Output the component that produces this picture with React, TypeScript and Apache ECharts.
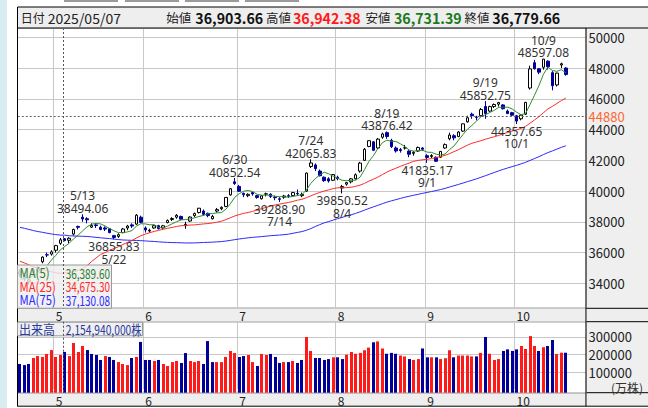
import React, { useEffect, useRef } from "react";
import * as echarts from "echarts";

const dates = [
  "2025/04/18","2025/04/21","2025/04/22","2025/04/23","2025/04/24","2025/04/25","2025/04/28","2025/04/30",
  "2025/05/01","2025/05/02","2025/05/07","2025/05/08","2025/05/09","2025/05/12","2025/05/13","2025/05/14","2025/05/15","2025/05/16","2025/05/19","2025/05/20","2025/05/21","2025/05/22","2025/05/23","2025/05/26","2025/05/27","2025/05/28","2025/05/29","2025/05/30",
  "2025/06/02","2025/06/03","2025/06/04","2025/06/05","2025/06/06","2025/06/09","2025/06/10","2025/06/11","2025/06/12","2025/06/13","2025/06/16","2025/06/17","2025/06/18","2025/06/19","2025/06/20","2025/06/23","2025/06/24","2025/06/25","2025/06/26","2025/06/27","2025/06/30",
  "2025/07/01","2025/07/02","2025/07/03","2025/07/04","2025/07/07","2025/07/08","2025/07/09","2025/07/10","2025/07/11","2025/07/14","2025/07/15","2025/07/16","2025/07/17","2025/07/18","2025/07/22","2025/07/23","2025/07/24","2025/07/25","2025/07/28","2025/07/29","2025/07/30","2025/07/31",
  "2025/08/01","2025/08/04","2025/08/05","2025/08/06","2025/08/07","2025/08/08","2025/08/12","2025/08/13","2025/08/14","2025/08/15","2025/08/18","2025/08/19","2025/08/20","2025/08/21","2025/08/22","2025/08/25","2025/08/26","2025/08/27","2025/08/28","2025/08/29",
  "2025/09/01","2025/09/02","2025/09/03","2025/09/04","2025/09/05","2025/09/08","2025/09/09","2025/09/10","2025/09/11","2025/09/12","2025/09/16","2025/09/17","2025/09/18","2025/09/19","2025/09/22","2025/09/24","2025/09/25","2025/09/26","2025/09/29","2025/09/30",
  "2025/10/01","2025/10/02","2025/10/03","2025/10/06","2025/10/07","2025/10/08","2025/10/09","2025/10/10","2025/10/14","2025/10/15","2025/10/16","2025/10/17"
];
const futureDates = ["2025/10/20","2025/10/21","2025/10/22","2025/10/23"];

const opens = [
  34600,34500,34100,34700,34800,35400,35850,35900,36150,36600,
  36903.66,36800,37200,37700,38300,38200,37650,37800,37650,37600,
  37550,37100,37050,37300,37600,37800,37850,38300,37600,37400,
  37600,37750,37600,37950,38150,38300,38350,37750,38050,38400,
  38600,38700,38550,38200,38700,38850,39000,39750,40600,40300,
  39850,39700,39900,39700,39500,39800,39800,39600,39500,39600,
  39700,39700,39850,39700,40000,41600,41700,41300,40900,40800,
  40700,40900,40200,40450,40600,40800,41300,42000,42900,43200,
  42800,43500,43800,43300,42800,42700,42800,42600,42450,42600,
  42800,42300,42250,42200,42200,42800,43400,43600,43550,43900,
  44500,45000,44800,44900,45500,45200,45500,45650,45600,45200,
  45100,44900,44700,45000,46700,48350,47950,48050,48450,47700,
  46900,48200,48000
];
const highs = [
  34900,34700,34300,35000,35100,35750,36000,36150,36500,36950,
  36942.38,37000,37550,37750,38494.06,38300,37900,37900,37750,37700,
  37600,37150,37250,37600,37800,37900,38500,38400,37700,37550,
  37800,37800,37800,38150,38300,38500,38400,38000,38350,38600,
  38900,38800,38600,38450,38900,39000,39600,40200,40852.54,40400,
  39900,39850,39950,39750,39750,39900,39850,39700,39600,39750,
  39800,39950,40100,39900,41200,42065.83,41800,41400,40950,40900,
  41100,41000,40400,40600,40850,41150,41900,42800,43300,43250,
  43450,43800,43876.42,43400,42900,42800,43000,42650,42600,42900,
  42850,42400,42400,42250,42600,43100,43800,43700,43900,44400,
  44900,45100,44900,45400,45852.75,45550,45700,45800,45650,45300,
  45150,44950,45000,45800,48150,48527,48000,48597.08,48500,47800,
  47700,48350,48050
];
const lows = [
  34420,34150,33900,34600,34700,35300,35700,35800,36000,36500,
  36731.39,36600,37100,37500,38000,37900,37600,37600,37450,37400,
  37250,36855.83,36950,37250,37450,37600,37800,37900,37300,37300,
  37550,37500,37550,37900,38050,38200,38100,37550,38000,38300,
  38550,38400,38300,38150,38600,38750,38950,39700,40400,39950,
  39600,39600,39700,39500,39450,39650,39550,39400,39288.90,39500,
  39550,39650,39700,39600,39950,41500,41300,40950,40600,40550,
  40650,40700,39850.52,40350,40500,40750,41200,41950,42850,42600,
  42750,43400,43400,42800,42500,42500,42700,42200,42300,42550,
  42600,41835.17,42150,41900,42150,42750,43300,43300,43500,43850,
  44450,44700,44600,44850,44700,45150,45400,45500,45300,45000,
  44850,44357.65,44600,44950,46600,47900,47600,47900,47900,46550,
  46800,48000,47500
];
const closes = [
  34730,34280,34221,34869,35039,35706,35840,36045,36452,36831,
  36779.66,36929,37503,37644,38183,38128,37756,37754,37499,37529,
  37299,36986,37160,37532,37724,37722,38433,37965,37471,37447,
  37747,37554,37742,38089,38212,38421,38173,37834,38311,38537,
  38885,38488,38403,38354,38791,38942,39585,40151,40487,39986,
  39762,39786,39811,39588,39689,39821,39646,39570,39460,39678,
  39663,39901,39819,39775,41171,41826,41456,40998,40675,40655,
  41070,40800,40291,40550,40795,41059,41820,42718,43275,42649,
  43378,43714,43546,42889,42610,42633,42808,42394,42520,42829,
  42718,42189,42310,41939,42580,43019,43644,43459,43838,44373,
  44768,44902,44790,45303,45046,45494,45630,45755,45355,45044,
  44933,44551,44937,45770,47945,47951,47735,48580,48089,46847,
  47673,48278,47582
];
// 出来高 (万株)
const volumes = [
  147000,141000,147000,181000,192000,187000,204000,226000,187000,198000,
  215494,192000,266000,215000,249000,226000,204000,198000,170000,192000,
  187000,170000,158000,147000,141000,181000,187000,272000,170000,170000,
  164000,170000,147000,136000,158000,164000,153000,209000,164000,158000,
  164000,147000,277000,158000,158000,158000,187000,221000,209000,187000,
  192000,198000,158000,136000,204000,198000,204000,187000,153000,158000,
  158000,164000,153000,170000,300000,221000,181000,181000,170000,175000,
  185000,185000,175000,200000,215000,205000,210000,225000,240000,270000,
  275000,235000,205000,210000,205000,195000,190000,175000,170000,175000,
  235000,185000,185000,185000,175000,180000,225000,185000,195000,195000,
  195000,190000,190000,210000,300000,205000,170000,175000,221000,230000,
  221000,230000,249000,232000,305000,249000,221000,242000,249000,283000,
  204000,211000,211000
];
// 1 = red (up vs previous close), 0 = navy
const volUp = [
  0,0,0,1,1,1,1,1,1,1,
  0,1,1,1,1,0,0,0,0,1,
  0,0,1,1,1,0,1,0,0,0,
  1,0,1,1,1,1,0,0,1,1,
  1,0,0,0,1,1,1,1,1,0,
  0,1,1,0,1,1,0,0,0,1,
  0,1,0,0,1,1,0,0,0,0,
  1,0,0,1,1,1,1,1,1,0,
  1,1,0,0,0,1,1,0,1,1,
  0,0,1,0,1,1,1,0,1,1,
  1,1,0,1,0,1,1,1,0,0,
  0,0,1,1,1,1,0,1,0,0,
  1,1,0
];
const ma5 = [
  34255,34315,34306,34495,34628,34823,35135,35500,35816,36175,
  36389.60,36607,36899,37137,37408,37677,37843,37893,37864,37733,
  37567,37413,37295,37301,37340,37425,37714,37875,37863,37808,
  37813,37637,37592,37716,37869,38004,38127,38146,38190,38255,
  38348,38411,38525,38533,38584,38596,38815,39165,39591,39830,
  39994,40034,39966,39787,39727,39739,39711,39663,39637,39635,
  39603,39654,39704,39767,40066,40498,40809,41045,41225,41122,
  40971,40840,40698,40673,40701,40699,40903,41388,41933,42304,
  42768,43147,43312,43235,43227,43078,42897,42667,42593,42637,
  42654,42530,42513,42397,42347,42407,42698,42928,43308,43667,
  44016,44268,44534,44827,44962,45107,45253,45446,45456,45456,
  45343,45128,44964,45047,45627,46231,46868,47596,48060,47840,
  47785,47893,47694
];
const ma25 = [
  35435,35324,35197,35078,34969,34891,34820,34750,34687,34649,
  34675.30,34688,34763,34840,34977,35151,35416,35646,35877,35994,
  36143,36263,36378,36523,36657,36776,36943,37092,37196,37293,
  37374,37443,37511,37576,37632,37697,37747,37760,37787,37801,
  37831,37861,37887,37921,37971,38037,38141,38261,38379,38469,
  38551,38605,38679,38763,38853,38936,39020,39093,39148,39206,
  39256,39325,39405,39463,39568,39686,39805,39909,40001,40076,
  40161,40210,40215,40218,40250,40302,40383,40500,40647,40766,
  40908,41071,41230,41367,41484,41603,41719,41822,41932,41998,
  42034,42063,42116,42166,42243,42321,42435,42562,42693,42836,
  42985,43108,43191,43272,43368,43453,43529,43618,43716,43814,
  43906,43975,44077,44207,44412,44621,44843,45094,45340,45510,
  45696,45882,46047
];
const ma75 = [
  37639,37574,37503,37430,37366,37318,37261,37209,37167,37135,
  37130.08,37092,37078,37067,37058,37046,37021,36991,36959,36932,
  36909,36876,36845,36818,36807,36793,36787,36773,36755,36737,
  36721,36696,36677,36662,36648,36642,36635,36623,36624,36629,
  36638,36655,36664,36677,36695,36712,36748,36790,36839,36881,
  36921,36957,36989,37013,37038,37067,37094,37118,37137,37162,
  37196,37253,37309,37363,37449,37556,37694,37814,37933,38014,
  38114,38204,38285,38373,38459,38543,38644,38757,38869,38971,
  39073,39178,39278,39364,39441,39519,39597,39662,39727,39789,
  39851,39910,39970,40030,40097,40173,40262,40346,40430,40519,
  40613,40699,40790,40894,40996,41099,41207,41313,41410,41501,
  41588,41673,41768,41867,41993,42114,42237,42373,42502,42610,
  42726,42842,42941
];

const peakIdx = [14, 21, 48, 58, 65, 72, 82, 91, 104, 111, 117];
const peakKind = ["high","low","high","low","high","low","high","low","high","low","high"];
const cursorIndex = 10;
const cursorPrice = 44880;

// axis extents (value at plot bottom / top) and tick step
const priceMin = 32374;
const priceMax = 50605;
const priceStep = 2000;
const volMin = -15300;
const volMax = 386500;
const volStep = 100000;

const FONT = "'Noto Sans CJK JP', 'Noto Sans', sans-serif";
const NUMFONT = "'Noto Sans', 'Noto Sans CJK JP', sans-serif";
const NAVY = "#000099";
const RED = "#ff1a1a";

const fmt2 = (v: number) => v.toLocaleString("en-US", { minimumFractionDigits: 2, maximumFractionDigits: 2 });
const md = (d: string) => { const p = d.split("/"); return parseInt(p[1], 10) + "/" + parseInt(p[2], 10); };

export default function App() {
  const ref = useRef<HTMLDivElement>(null);

  useEffect(() => {
    const chart = echarts.init(ref.current!, null, { renderer: "svg" });
    const cats = dates.concat(futureDates);
    const month = (i: number) => parseInt(cats[i].split("/")[1], 10);
    const isMonthStart = (i: number) => i > 0 && month(i) !== month(i - 1);

    const candleData = dates.map((_, i) => [opens[i], closes[i], lows[i], highs[i]]);
    const volData = dates.map((_, i) => [i, volumes[i], volUp[i]]);

    const markData = peakIdx.map((idx, k) => {
      const isHigh = peakKind[k] === "high";
      const v = isHigh ? highs[idx] : lows[idx];
      const d = md(dates[idx]);
      return {
        coord: [idx, v],
        symbol: "rect",
        symbolSize: 0,
        itemStyle: { color: "rgba(0,0,0,0)" },
        label: {
          show: true,
          position: isHigh ? "top" : "bottom",
          distance: isHigh ? -0.3 : 1.3,
          formatter: isHigh ? d + "\n" + v.toFixed(2) : v.toFixed(2) + "\n" + d,
          color: "#333",
          fontSize: 12,
          lineHeight: 12.4,
          fontFamily: NUMFONT,
          align: "center",
        },
      };
    });

    const xAxisCommon = {
      type: "category",
      data: cats,
      boundaryGap: true,
      axisLine: { show: false },
      axisTick: { show: false },
      splitLine: { show: true, interval: (i: number) => isMonthStart(i), lineStyle: { color: "#c8c8c8", width: 1 } },
      axisLabel: {
        show: true,
        interval: (i: number) => isMonthStart(i),
        formatter: (val: string) => String(parseInt(val.split("/")[1], 10)),
        align: "left",
        margin: 0.5,
        color: "#222",
        fontSize: 12,
        lineHeight: 14,
        fontFamily: FONT,
      },
    };

    const gridL = 17.76;
    const gridW = 568.2;
    const axisR = gridL + gridW;
    const mainTop = 28, mainBot = 308.3, volTop = 321.7, volBot = 392.7;

    const legendVals = [ma5[cursorIndex], ma25[cursorIndex], ma75[cursorIndex]];
    const legendNames = ["MA(5)", "MA(25)", "MA(75)"];
    const legendColors = ["#2e7d2e", "#ff2a2a", "#2a2aff"];

    const txt = (x: number, y: number, text: string, font: string, fill: string, extra: any = {}, z = 10) => ({
      type: "text", z, silent: true, x, y, ...extra,
      style: { text, font, fill, verticalAlign: "middle", align: extra.align || "left" },
    });

    const g: any[] = [
      { type: "rect", z: -10, silent: true, shape: { x: 0, y: 0, width: 7, height: 408 }, style: { fill: "#d8edf2" } },
      ...[64, 125, 185, 245].map((x) => ({ type: "rect", z: -10, silent: true, shape: { x, y: 0, width: 54, height: 2 }, style: { fill: "#9a9a9a" } })),
      { type: "rect", z: -5, silent: true, shape: { x: axisR, y: mainTop, width: 648 - axisR, height: mainBot - mainTop }, style: { fill: "#efefef" } },
      { type: "rect", z: -5, silent: true, shape: { x: axisR, y: volTop, width: 648 - axisR, height: volBot - volTop }, style: { fill: "#efefef" } },
      // hide the zero split line of the volume panel (bars are drawn above it)
      { type: "rect", z: 1, silent: true, shape: { x: gridL + 0.5, y: 389.3, width: gridW - 1, height: 1.6 }, style: { fill: "#ffffff" } },
      { type: "rect", z: -4, silent: true, shape: { x: 17.5, y: mainBot, width: 650, height: volTop - mainBot }, style: { fill: "#eeeeee", stroke: "#000", lineWidth: 1 } },
      { type: "rect", z: -4, silent: true, shape: { x: 17.5, y: volBot, width: 650, height: 13.5 }, style: { fill: "#eeeeee", stroke: "#000", lineWidth: 1 } },
      { type: "rect", z: 5, silent: true, shape: { x: 17.5, y: 7, width: 650, height: 21 }, style: { fill: "#eeeeee", stroke: "#000", lineWidth: 1 } },
      { type: "line", z: 6, silent: true, shape: { x1: 17.5, y1: 7, x2: 17.5, y2: 406.2 }, style: { stroke: "#000", lineWidth: 1 } },
      { type: "line", z: 6, silent: true, shape: { x1: axisR, y1: mainTop, x2: axisR, y2: 406.2 }, style: { stroke: "#000", lineWidth: 1 } },
      // header texts
      txt(20.8, 17.5, "日付", `12px ${FONT}`, "#222"),
      txt(47.8, 17.5, dates[cursorIndex], `14px ${FONT}`, "#222"),
      txt(166.2, 17.5, "始値", `12.5px ${FONT}`, "#222"),
      txt(195.3, 17.5, fmt2(opens[cursorIndex]), `bold 14.2px ${FONT}`, "#111"),
      txt(265.9, 17.5, "高値", `12.5px ${FONT}`, "#222"),
      txt(292.9, 17.5, fmt2(highs[cursorIndex]), `bold 14.2px ${FONT}`, "#ff1a1a"),
      txt(365.6, 17.5, "安値", `12.5px ${FONT}`, "#222"),
      txt(393.9, 17.5, fmt2(lows[cursorIndex]), `bold 14.2px ${FONT}`, "#1b7a1b"),
      txt(464.5, 17.5, "終値", `12.5px ${FONT}`, "#222"),
      txt(492.3, 17.5, fmt2(closes[cursorIndex]), `bold 14.2px ${FONT}`, "#111"),
      // MA legend box
      { type: "rect", z: 50, silent: true, shape: { x: 17.5, y: 265, width: 94, height: mainBot - 265 }, style: { fill: "rgba(238,238,238,0.82)", stroke: "#999", lineWidth: 1 } },
      ...legendNames.map((n, k) => txt(19.5, 272.3 + k * 13.8, n, `13.5px ${FONT}`, legendColors[k], { scaleX: 0.84 }, 51)),
      ...legendVals.map((v, k) => txt(110, 272.3 + k * 13.8, fmt2(v), `13.5px ${FONT}`, legendColors[k], { scaleX: 0.74, align: "right" }, 51)),
      // volume label box
      { type: "rect", z: 50, silent: true, shape: { x: 17.5, y: 322.2, width: 125, height: 13.6 }, style: { fill: "rgba(238,238,238,0.9)", stroke: "#999", lineWidth: 1 } },
      txt(19, 329, "出来高", `13px ${FONT}`, "#2b3a9e", { scaleX: 0.92 }, 51),
      txt(141.5, 329, (volumes[cursorIndex] * 10000).toLocaleString("en-US") + "株", `13.5px ${FONT}`, "#2b3a9e", { scaleX: 0.76, align: "right" }, 51),
      txt(643, 387.7, "(万株)", `12px ${FONT}`, "#333", { align: "right" }, 10),
      // cursor vertical line
      { type: "line", z: 60, silent: true, shape: { x1: 63.5, y1: mainTop, x2: 63.5, y2: mainBot }, style: { stroke: "#555", lineWidth: 1, lineDash: [2, 2] } },
      { type: "line", z: 60, silent: true, shape: { x1: 63.5, y1: volTop, x2: 63.5, y2: volBot }, style: { stroke: "#555", lineWidth: 1, lineDash: [2, 2] } },
    ];

    const option: any = {
      animation: false,
      backgroundColor: "#ffffff",
      textStyle: { fontFamily: FONT },
      grid: [
        { left: gridL, top: mainTop, width: gridW, height: mainBot - mainTop, containLabel: false },
        { left: gridL, top: volTop, width: gridW, height: volBot - volTop, containLabel: false },
      ],
      xAxis: [
        { ...xAxisCommon, gridIndex: 0 },
        { ...xAxisCommon, gridIndex: 1 },
      ],
      yAxis: [
        {
          type: "value", gridIndex: 0, position: "right", scale: true,
          min: priceMin, max: priceMax, minInterval: priceStep, maxInterval: priceStep, splitNumber: 9,
          axisLine: { show: false }, axisTick: { show: false },
          splitLine: { show: true, lineStyle: { color: "#c8c8c8", width: 1 } },
          axisLabel: { show: true, showMinLabel: false, showMaxLabel: false, margin: 2.6, color: "#222", fontSize: 13, lineHeight: 12, fontFamily: FONT,
            formatter: (v: number) => (v % priceStep === 0 ? String(v) : "") },
        },
        {
          type: "value", gridIndex: 1, position: "right", scale: true,
          min: volMin, max: volMax, minInterval: volStep, maxInterval: volStep, splitNumber: 4,
          axisLine: { show: false }, axisTick: { show: false },
          splitLine: { show: true, lineStyle: { color: "#c8c8c8", width: 1 } },
          axisLabel: { show: true, showMinLabel: false, showMaxLabel: false, margin: 2.6, color: "#222", fontSize: 13, lineHeight: 12, fontFamily: FONT,
            formatter: (v: number) => (v > 0 && v % volStep === 0 ? String(v) : "") },
        },
      ],
      series: [
        {
          type: "candlestick", xAxisIndex: 0, yAxisIndex: 0, data: candleData, barWidth: 3, z: 2,
          itemStyle: { color: "#ffffff", color0: NAVY, borderColor: "#000000", borderColor0: NAVY, borderWidth: 1 },
          markPoint: { silent: true, data: markData, animation: false },
          markLine: {
            silent: true, symbol: ["none", "none"], animation: false,
            data: [{ yAxis: cursorPrice }],
            lineStyle: { color: "#666", type: [2, 2], width: 1 },
            label: { show: true, position: "end", distance: 2.6, formatter: String(cursorPrice), color: "#ff6633", fontSize: 13, lineHeight: 12, fontFamily: FONT },
          },
        },
        { type: "line", xAxisIndex: 0, yAxisIndex: 0, data: ma75, symbol: "none", lineStyle: { color: "#2a2aff", width: 1 }, z: 3 },
        { type: "line", xAxisIndex: 0, yAxisIndex: 0, data: ma25, symbol: "none", lineStyle: { color: "#ff2a2a", width: 1 }, z: 3 },
        { type: "line", xAxisIndex: 0, yAxisIndex: 0, data: ma5, symbol: "none", lineStyle: { color: "#2e8b2e", width: 1 }, z: 3 },
        {
          type: "custom", xAxisIndex: 1, yAxisIndex: 1, data: volData, encode: { x: 0, y: 1 }, z: 2,
          renderItem: (params: any, api: any) => {
            const i = api.value(0);
            const top = api.coord([i, api.value(1)]);
            const cs = params.coordSys;
            const bottom = cs.y + cs.height;
            const bw = 3;
            const x = Math.round(top[0] - bw / 2);
            return { type: "rect", shape: { x, y: top[1], width: bw, height: bottom - top[1] }, style: { fill: api.value(2) ? RED : NAVY } };
          },
        },
      ],
      graphic: { elements: g },
    };
    chart.setOption(option);
    return () => chart.dispose();
  }, []);

  return (
    <div style={{ position: "absolute", left: 0, top: 0, width: 648, height: 408, background: "#fff" }}>
      <div ref={ref} style={{ width: 648, height: 408 }} />
    </div>
  );
}
